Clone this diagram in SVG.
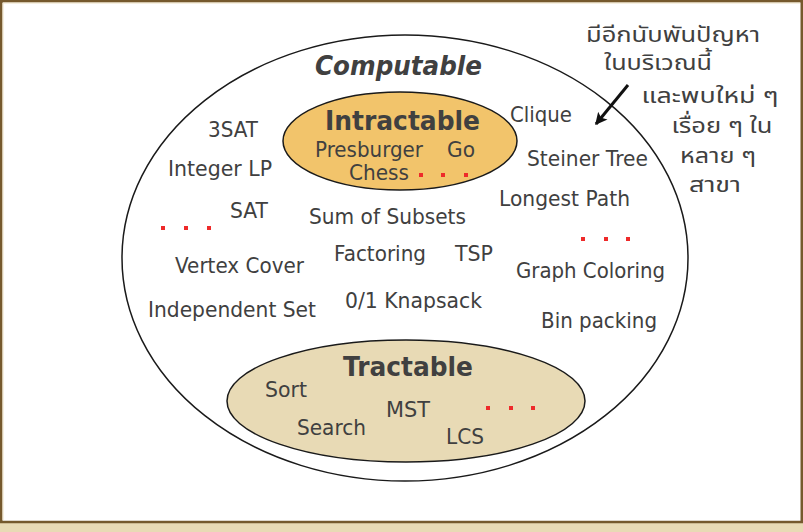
<svg xmlns="http://www.w3.org/2000/svg" width="803" height="532" viewBox="0 0 803 532">
<style>
  .t { font-family: "DejaVu Sans", Verdana, sans-serif; font-size: 20.5px; fill: #404040; }
  .b { font-family: "DejaVu Sans", Verdana, sans-serif; font-weight: bold; font-size: 26px; fill: #404040; }
  .th { font-family: "Noto Sans Thai", "Noto Sans", "DejaVu Sans", sans-serif; font-size: 22px; fill: #404040; text-anchor: middle; }
  .dot { fill: #ee2a2a; }
  .ell { stroke: #1a1a1a; stroke-width: 1.5; }
</style>
<defs>
  <marker id="ah" viewBox="0 0 10 10" refX="8" refY="5" markerWidth="4.5" markerHeight="4.5" orient="auto">
    <path d="M0,0.5 L9,5 L0,9.5 L2,5 Z" fill="#111"/>
  </marker>
</defs>
<rect x="0" y="0" width="803" height="532" fill="#e8dab5"/>
<rect x="1.25" y="1.25" width="800.5" height="520.75" fill="#ffffff" stroke="#75592d" stroke-width="2.5"/>
<path d="M3,520 L3,3 L800,3" fill="none" stroke="#ede1c4" stroke-width="1"/>

<g id="computable">
  <ellipse class="ell" cx="405" cy="258" rx="283" ry="223" fill="none"/>
  <text class="b" x="315" y="75" font-style="italic" textLength="167" lengthAdjust="spacingAndGlyphs">Computable</text>
</g>

<g id="intractable">
  <ellipse class="ell" cx="400" cy="141" rx="117" ry="49" fill="#f2c46b"/>
  <text class="b" x="325" y="130" textLength="155" lengthAdjust="spacingAndGlyphs">Intractable</text>
  <text class="t" x="315" y="157" textLength="108" lengthAdjust="spacingAndGlyphs">Presburger</text>
  <text class="t" x="447" y="157" textLength="28" lengthAdjust="spacingAndGlyphs">Go</text>
  <text class="t" x="349" y="180" textLength="60" lengthAdjust="spacingAndGlyphs">Chess</text>
  <rect class="dot" x="419" y="173" width="4" height="4"/>
  <rect class="dot" x="441" y="173" width="4" height="4"/>
  <rect class="dot" x="464" y="173" width="4" height="4"/>
</g>

<g id="tractable">
  <ellipse class="ell" cx="406" cy="401" rx="179" ry="61" fill="#e8dab5"/>
  <text class="b" x="343" y="376" textLength="130" lengthAdjust="spacingAndGlyphs">Tractable</text>
  <text class="t" x="265" y="397" textLength="42" lengthAdjust="spacingAndGlyphs">Sort</text>
  <text class="t" x="386" y="417" textLength="44" lengthAdjust="spacingAndGlyphs">MST</text>
  <text class="t" x="297" y="435" textLength="69" lengthAdjust="spacingAndGlyphs">Search</text>
  <text class="t" x="446" y="444" textLength="38" lengthAdjust="spacingAndGlyphs">LCS</text>
  <rect class="dot" x="486" y="406" width="4" height="4"/>
  <rect class="dot" x="509" y="406" width="4" height="4"/>
  <rect class="dot" x="531" y="406" width="4" height="4"/>
</g>

<g id="problems">
  <text class="t" x="208" y="137" textLength="50" lengthAdjust="spacingAndGlyphs">3SAT</text>
  <text class="t" x="168" y="176" textLength="104" lengthAdjust="spacingAndGlyphs">Integer LP</text>
  <text class="t" x="230" y="218" textLength="38" lengthAdjust="spacingAndGlyphs">SAT</text>
  <rect class="dot" x="161" y="226" width="4" height="4"/>
  <rect class="dot" x="184" y="226" width="4" height="4"/>
  <rect class="dot" x="207" y="226" width="4" height="4"/>
  <text class="t" x="309" y="224" textLength="157" lengthAdjust="spacingAndGlyphs">Sum of Subsets</text>
  <text class="t" x="510" y="122" textLength="62" lengthAdjust="spacingAndGlyphs">Clique</text>
  <text class="t" x="527" y="166" textLength="121" lengthAdjust="spacingAndGlyphs">Steiner Tree</text>
  <text class="t" x="499" y="206" textLength="131" lengthAdjust="spacingAndGlyphs">Longest Path</text>
  <rect class="dot" x="581" y="237" width="4" height="4"/>
  <rect class="dot" x="604" y="237" width="4" height="4"/>
  <rect class="dot" x="626" y="237" width="4" height="4"/>
  <text class="t" x="334" y="261" textLength="92" lengthAdjust="spacingAndGlyphs">Factoring</text>
  <text class="t" x="455" y="261" textLength="38" lengthAdjust="spacingAndGlyphs">TSP</text>
  <text class="t" x="175" y="273" textLength="129" lengthAdjust="spacingAndGlyphs">Vertex Cover</text>
  <text class="t" x="516" y="278" textLength="149" lengthAdjust="spacingAndGlyphs">Graph Coloring</text>
  <text class="t" x="345" y="308" textLength="137" lengthAdjust="spacingAndGlyphs">0/1 Knapsack</text>
  <text class="t" x="148" y="317" textLength="168" lengthAdjust="spacingAndGlyphs">Independent Set</text>
  <text class="t" x="541" y="328" textLength="116" lengthAdjust="spacingAndGlyphs">Bin packing</text>
</g>

<g id="note">
  <text class="th" x="673" y="42" textLength="174" lengthAdjust="spacingAndGlyphs">มีอีกนับพันปัญหา</text>
  <text class="th" x="658" y="70" textLength="108" lengthAdjust="spacingAndGlyphs">ในบริเวณนี้</text>
  <text class="th" x="710" y="103" textLength="137" lengthAdjust="spacingAndGlyphs">และพบใหม่ ๆ</text>
  <text class="th" x="722" y="133" textLength="101" lengthAdjust="spacingAndGlyphs">เรื่อย ๆ ใน</text>
  <text class="th" x="718" y="163" textLength="76" lengthAdjust="spacingAndGlyphs">หลาย ๆ</text>
  <text class="th" x="715" y="192" textLength="52" lengthAdjust="spacingAndGlyphs">สาขา</text>
</g>

<g id="connectors">
  <line x1="628" y1="85" x2="596" y2="124" stroke="#111" stroke-width="3" marker-end="url(#ah)"/>
</g>
</svg>
